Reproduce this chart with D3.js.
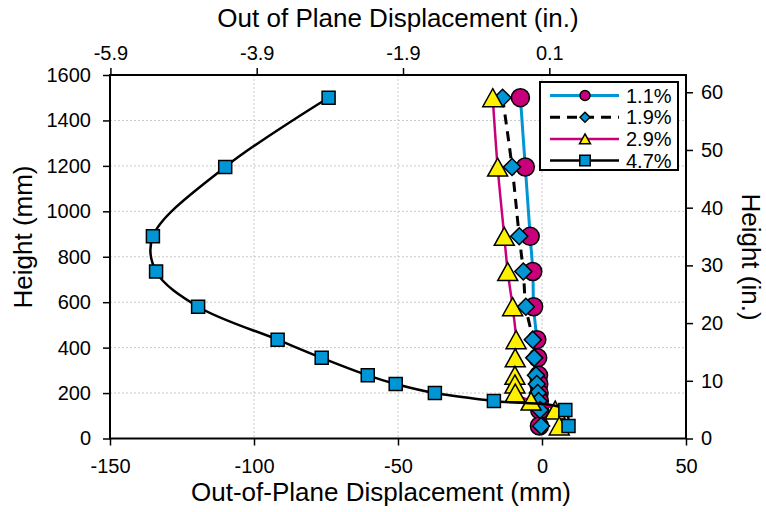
<!DOCTYPE html>
<html>
<head>
<meta charset="utf-8">
<script src="https://cdn.jsdelivr.net/npm/d3@7"></script>
<style>
  body { margin: 0; background: #fff; }
  text { font-family: Arial, "Liberation Sans", sans-serif; fill: #000; }
</style>
</head>
<body>
<svg id="chart" width="766" height="512"></svg>
<script>
// Sensor heights (mm) and out-of-plane displacement (mm) per drift level
const heights = [1500, 1195, 890, 735, 580, 435, 355, 278, 240, 200, 165, 125, 55];
const drift11 = [-7.5, -5.8, -4.1, -3.2, -2.9, -1.8, -1.5, -1.2, -1.1, -1.0, -0.9, -0.8, -0.9];
const drift19 = [-13.7, -10.4, -7.9, -6.5, -5.6, -3.2, -2.7, -2.1, -1.8, -1.5, -1.2, -0.7, -0.3];
const drift29 = [-17.1, -15.4, -13.1, -11.9, -10.2, -9.0, -9.3, -9.4, -9.4, -9.3, -3.8, 4.6, 6.0];
const drift47 = [-74.1, -110, -135.1, -134, -119.4, -91.8, -76.5, -60.5, -50.8, -37.2, -16.7, 8.1, 9.2];
const seriesNames = ["1.1%", "1.9%", "2.9%", "4.7%"];

const xTicksMm = [-150, -100, -50, 0, 50];
const xTicksIn = [-5.9, -3.9, -1.9, 0.1];
const yTicksMm = [0, 200, 400, 600, 800, 1000, 1200, 1400, 1600];
const yTicksIn = [0, 10, 20, 30, 40, 50, 60];

const blue = "#0096D6", magenta = "#C8007A", yellow = "#FFF000";

const plotL = 110, plotR = 686, plotT = 75, plotB = 438.5;

const svg = d3.select("#chart");

const x = d3.scaleLinear().domain([-150, 50]).range([plotL, plotR]);
const y = d3.scaleLinear().domain([0, 1600]).range([plotB, plotT]);
const xIn = d3.scaleLinear().domain([-150 / 25.4, 50 / 25.4]).range([plotL, plotR]);
const yIn = d3.scaleLinear().domain([0, 1600 / 25.4]).range([plotB, plotT]);

// gridlines
const grid = svg.append("g").attr("stroke", "#c8c8c8").attr("stroke-width", 1).attr("stroke-dasharray", "2,2");
grid.selectAll("line.v").data(xTicksMm.slice(1, -1)).enter().append("line")
  .attr("x1", d => x(d)).attr("x2", d => x(d)).attr("y1", plotT).attr("y2", plotB);
grid.selectAll("line.h").data(yTicksMm.slice(1, -1)).enter().append("line")
  .attr("x1", plotL).attr("x2", plotR).attr("y1", d => y(d)).attr("y2", d => y(d));

// axes
function styleAxis(g) {
  g.select(".domain").remove();
  g.selectAll(".tick line").attr("stroke", "#000").attr("stroke-width", 1.5);
  g.selectAll(".tick text").style("font-size", "20px").attr("fill", "#000");
}
svg.append("g").attr("transform", `translate(0,${plotB})`)
  .call(d3.axisBottom(x).tickValues(xTicksMm).tickFormat(d => String(d)).tickSize(7).tickPadding(13))
  .call(styleAxis);
svg.append("g").attr("transform", `translate(0,${plotT})`)
  .call(d3.axisTop(xIn).tickValues(xTicksIn).tickFormat(d => String(d)).tickSize(7).tickPadding(8))
  .call(styleAxis);
svg.append("g").attr("transform", `translate(${plotL},0)`)
  .call(d3.axisLeft(y).tickValues(yTicksMm).tickFormat(d => String(d)).tickSize(7).tickPadding(12))
  .call(styleAxis);
svg.append("g").attr("transform", `translate(${plotR},0)`)
  .call(d3.axisRight(yIn).tickValues(yTicksIn).tickFormat(d => String(d)).tickSize(7).tickPadding(8))
  .call(styleAxis);

// frame
svg.append("rect").attr("x", plotL).attr("y", plotT).attr("width", plotR - plotL).attr("height", plotB - plotT)
  .attr("fill", "none").attr("stroke", "#000").attr("stroke-width", 2);

// axis titles
svg.append("text").attr("x", 381).attr("y", 501).attr("text-anchor", "middle")
  .style("font-size", "26px").text("Out-of-Plane Displacement (mm)");
svg.append("text").attr("x", 398).attr("y", 27).attr("text-anchor", "middle")
  .style("font-size", "26px").text("Out of Plane Displacement (in.)");
svg.append("text").attr("transform", "translate(32,237) rotate(-90)").attr("text-anchor", "middle")
  .style("font-size", "26px").text("Height (mm)");
svg.append("text").attr("transform", "translate(742,257) rotate(90)").attr("text-anchor", "middle")
  .style("font-size", "26px").text("Height (in.)");

// marker shapes (s = bounding width)
function markerPath(shape, s) {
  const h = s / 2;
  if (shape === "circle") return `M${h},0A${h},${h} 0 1,1 ${-h},0A${h},${h} 0 1,1 ${h},0Z`;
  if (shape === "diamond") return `M0,${-h}L${h},0L0,${h}L${-h},0Z`;
  if (shape === "triangle") { const th = s * 0.9 / 2; return `M0,${-th}L${h},${th}L${-h},${th}Z`; }
  return `M${-h},${-h}H${h}V${h}H${-h}Z`;
}

const series = [
  { name: seriesNames[0], vals: drift11, line: blue, width: 3, dash: null, shape: "circle", fill: magenta, size: 18, lsize: 10 },
  { name: seriesNames[1], vals: drift19, line: "#000", width: 3, dash: "10,7", shape: "diamond", fill: blue, size: 17, lsize: 10 },
  { name: seriesNames[2], vals: drift29, line: magenta, width: 2.5, dash: null, shape: "triangle", fill: yellow, size: 20, lsize: 11 },
  { name: seriesNames[3], vals: drift47, line: "#000", width: 2.5, dash: null, shape: "square", fill: blue, size: 13, lsize: 10.5 }
];

const lineGen = d3.line().x(d => x(d[0])).y(d => y(d[1])).curve(d3.curveCatmullRom.alpha(0.5));

series.forEach(s => {
  const pts = s.vals.map((v, i) => [v, heights[i]]);
  const g = svg.append("g");
  g.append("path").datum(pts).attr("d", lineGen).attr("fill", "none")
    .attr("stroke", s.line).attr("stroke-width", s.width).attr("stroke-dasharray", s.dash);
  g.selectAll("path.m").data(pts).enter().append("path")
    .attr("transform", d => `translate(${x(d[0])},${y(d[1])})`)
    .attr("d", markerPath(s.shape, s.size))
    .attr("fill", s.fill).attr("stroke", "#000").attr("stroke-width", 1.5);
});

// legend
const lg = svg.append("g");
lg.append("rect").attr("x", 540).attr("y", 82).attr("width", 138).attr("height", 88)
  .attr("fill", "#fff").attr("stroke", "#000").attr("stroke-width", 2);
series.forEach((s, i) => {
  const ry = 95.5 + i * 21.7;
  lg.append("line").attr("x1", 550).attr("x2", 619).attr("y1", ry).attr("y2", ry)
    .attr("stroke", s.line).attr("stroke-width", s.width).attr("stroke-dasharray", s.dash);
  lg.append("path").attr("transform", `translate(585,${ry})`).attr("d", markerPath(s.shape, s.lsize))
    .attr("fill", s.fill).attr("stroke", "#000").attr("stroke-width", 1.5);
  lg.append("text").attr("x", 626).attr("y", ry).attr("dy", "0.36em").style("font-size", "20px").text(s.name);
});
</script>
</body>
</html>
